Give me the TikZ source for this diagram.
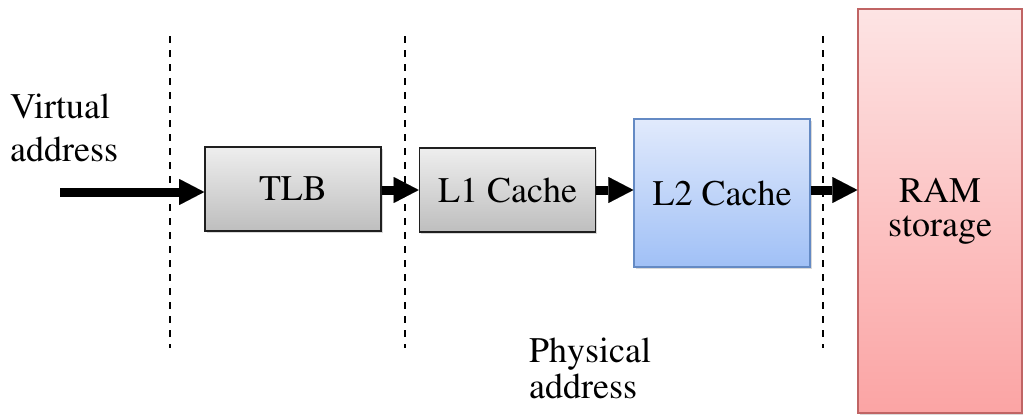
\documentclass[tikz,border=0pt]{standalone}
\usepackage[T1]{fontenc}
\usepackage{mathptmx}
\usetikzlibrary{arrows.meta,shadows}

\definecolor{greyTop}{RGB}{238,238,238}
\definecolor{greyBot}{RGB}{190,190,190}
\definecolor{blueTop}{RGB}{225,234,252}
\definecolor{blueBot}{RGB}{160,192,246}
\definecolor{blueEdge}{RGB}{100,138,196}
\definecolor{redTop}{RGB}{253,228,228}
\definecolor{redBot}{RGB}{251,164,164}
\definecolor{redEdge}{RGB}{192,100,100}

\begin{document}
\begin{tikzpicture}[x=1pt,y=-1pt,
  stage/.style={draw=black!88, line width=1.6pt, inner sep=0pt,
    top color=greyTop, bottom color=greyBot,
    minimum width=176pt, minimum height=84pt,
    font=\fontsize{36}{36}\selectfont,
    drop shadow={shadow xshift=1.5pt, shadow yshift=-2pt, opacity=0.3}},
  l2box/.style={stage, draw=blueEdge, line width=1.2pt,
    top color=blueTop, bottom color=blueBot, minimum height=148pt},
  rambox/.style={stage, draw=redEdge, line width=1.2pt,
    top color=redTop, bottom color=redBot, align=center,
    minimum width=164pt, minimum height=404pt,
    font=\fontsize{36}{34}\selectfont},
  flow/.style={line width=9pt,
    -{Triangle[length=25pt,width=26pt,line width=0.01pt]}},
  divider/.style={line width=2pt, dash pattern=on 7pt off 7pt},
  caption/.style={align=left, inner sep=0pt, anchor=north west}
]
\useasboundingbox (0,0) rectangle (1023,415);

% boundaries between the address domains
\coordinate (d1top) at (169.5,36);  \coordinate (d1bot) at (169.5,348);
\coordinate (d2top) at (405,36);    \coordinate (d2bot) at (405,348);
\coordinate (d3top) at (823,36);    \coordinate (d3bot) at (823,348);
\draw[divider] (d1top) -- (d1bot);
\draw[divider] (d2top) -- (d2bot);
\draw[divider] (d3top) -- (d3bot);

% lookup stages
\node[stage]  (tlb) at (293,189)   {TLB};
\node[stage]  (l1)  at (507.5,190) {L1 Cache};
\node[l2box]  (l2)  at (722,193)   {L2 Cache};
\node[rambox] (ram) at (940,211)   {RAM\\storage};

% captions
\node[caption, font=\fontsize{36}{43}\selectfont] (va) at (10,94)  {Virtual\\address};
\node[caption, font=\fontsize{36}{36}\selectfont] (pa) at (529,338) {Physical\\address};

% data path
\coordinate (src) at (60,192);
\coordinate (row) at (0,190);
\draw[flow] (src) -- (src -| tlb.west);
\draw[flow] (tlb.east |- row) -- (l1.west |- row);
\draw[flow] (l1.east |- row) -- (l2.west |- row);
\draw[flow] (l2.east |- row) -- (ram.west |- row);
\end{tikzpicture}
\end{document}
